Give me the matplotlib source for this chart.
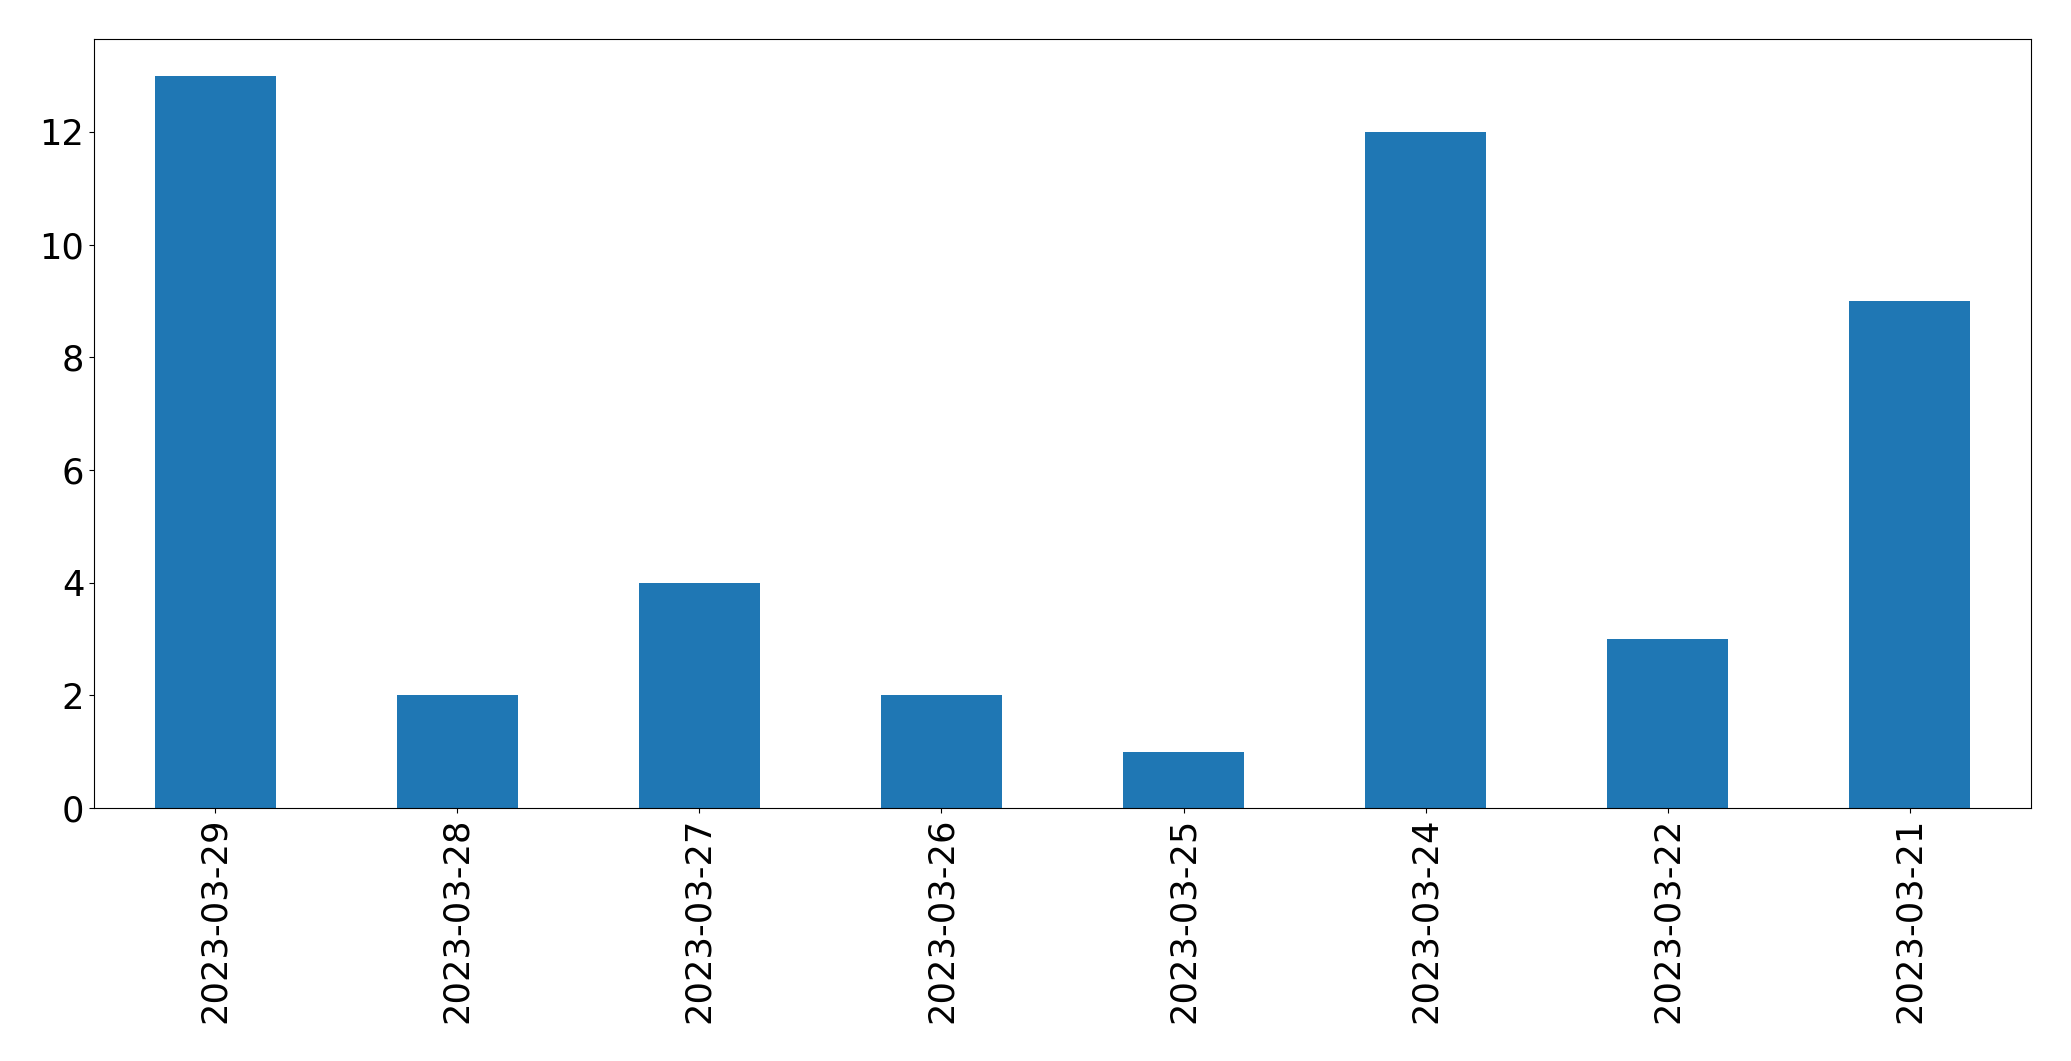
import pandas as pd
import matplotlib
matplotlib.use("Agg")
import matplotlib.pyplot as plt

fechas = ["2023-03-29", "2023-03-28", "2023-03-27", "2023-03-26",
          "2023-03-25", "2023-03-24", "2023-03-22", "2023-03-21"]
conteos = [13, 2, 4, 2, 1, 12, 3, 9]

serie = pd.Series(conteos, index=fechas)

fig = plt.figure(figsize=(20.71, 10.61), dpi=100)
ax = fig.add_axes([0.0454, 0.2385, 0.9353, 0.7248])
serie.plot(kind="bar", ax=ax, fontsize=25.4)

fig.savefig("out.png", dpi=100)
